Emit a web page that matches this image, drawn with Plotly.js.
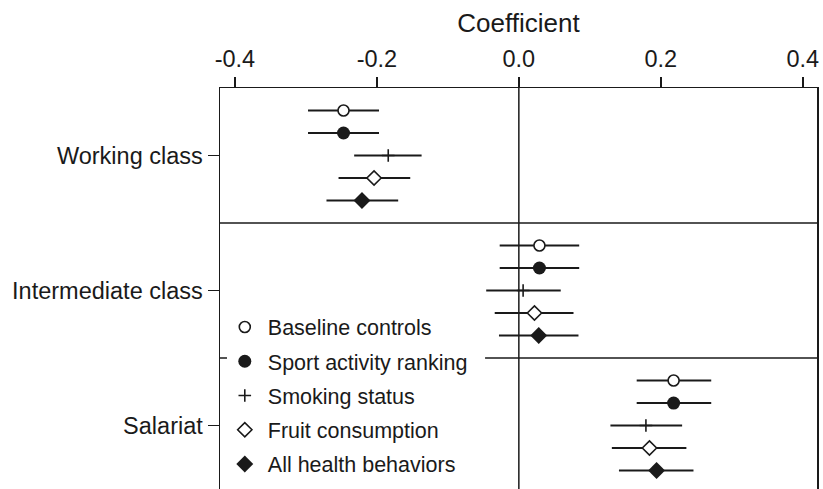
<!DOCTYPE html>
<html>
<head>
<meta charset="utf-8">
<script src="https://cdn.plot.ly/plotly-3.0.1.min.js"></script>
<style>
  html, body { margin: 0; padding: 0; background: #fff; }
  #chart { width: 823px; height: 489px; }
</style>
</head>
<body>
<div id="chart"></div>
<script>
// Social class groups (top to bottom) and model specifications
const classes = ["Working class", "Intermediate class", "Salariat"];
const models = ["Baseline controls", "Sport activity ranking", "Smoking status",
                "Fruit consumption", "All health behaviors"];

// Point estimates per model, one value per class
const baseline   = [-0.247, 0.029, 0.218];
const sport      = [-0.247, 0.029, 0.218];
const smoking    = [-0.184, 0.006, 0.179];
const fruit      = [-0.204, 0.022, 0.184];
const allHealth  = [-0.221, 0.028, 0.194];

// 95% confidence bounds
const baselineLo  = [-0.297, -0.027, 0.166];
const baselineHi  = [-0.197,  0.085, 0.271];
const sportLo     = [-0.297, -0.027, 0.166];
const sportHi     = [-0.197,  0.085, 0.271];
const smokingLo   = [-0.232, -0.046, 0.129];
const smokingHi   = [-0.137,  0.059, 0.230];
const fruitLo     = [-0.254, -0.034, 0.131];
const fruitHi     = [-0.153,  0.077, 0.236];
const allHealthLo = [-0.271, -0.028, 0.141];
const allHealthHi = [-0.170,  0.084, 0.246];

const xTicks = [-0.4, -0.2, 0.0, 0.2, 0.4];
const xTickText = ["-0.4", "-0.2", "0.0", "0.2", "0.4"];

const ink = "#1a1a1a";
const FONT = "Liberation Sans, Arial, sans-serif";

// vertical slot of each model inside a class band
const offsets = [-1/3, -1/6, 0, 1/6, 1/3];

const series = [
  { est: baseline,  lo: baselineLo,  hi: baselineHi,
    marker: { symbol: "circle", size: 11, color: "#fff", line: { color: ink, width: 1.6 } } },
  { est: sport,     lo: sportLo,     hi: sportHi,
    marker: { symbol: "circle", size: 13, color: ink, line: { color: ink, width: 0 } } },
  { est: smoking,   lo: smokingLo,   hi: smokingHi,
    marker: { symbol: "cross-thin-open", size: 9, color: ink, line: { color: ink, width: 1.6 } } },
  { est: fruit,     lo: fruitLo,     hi: fruitHi,
    marker: { symbol: "diamond", size: 11, color: "#fff", line: { color: ink, width: 1.6 } } },
  { est: allHealth, lo: allHealthLo, hi: allHealthHi,
    marker: { symbol: "diamond", size: 13, color: ink, line: { color: ink, width: 0 } } }
];

const traces = series.map((s, i) => ({
  type: "scatter",
  mode: "markers",
  name: models[i],
  legendgroup: "g" + i,
  x: s.est,
  y: classes.map((_, k) => k + offsets[i]),
  marker: s.marker,
  error_x: {
    type: "data",
    symmetric: false,
    array: s.est.map((v, k) => s.hi[k] - v),
    arrayminus: s.est.map((v, k) => v - s.lo[k]),
    color: ink,
    thickness: 2,
    width: 0
  },
  hoverinfo: "x+name"
}));

// band separators, a white panel behind the key, and the zero reference line
const shapes = [0.5, 1.5].map(v => ({
  type: "line", xref: "paper", x0: 0, x1: 1, yref: "y", y0: v, y1: v,
  line: { color: ink, width: 1.5 }, layer: "below"
}));
shapes.push({
  type: "rect", xref: "paper", x0: 0.0117, x1: 0.444, yref: "paper", y0: 0.02, y1: 0.45,
  fillcolor: "#fff", line: { width: 0 }, layer: "below"
});
shapes.push({
  type: "line", xref: "x", x0: 0, x1: 0, yref: "paper", y0: 0, y1: 1,
  line: { color: ink, width: 1.5 }, layer: "below"
});

const layout = {
  width: 823, height: 489,
  margin: { l: 220, r: 6, t: 88, b: 0, autoexpand: false },
  paper_bgcolor: "#fff",
  plot_bgcolor: "#fff",
  font: { family: FONT, color: ink, size: 21.5 },
  showlegend: true,
  legend: {
    x: 0.003, xanchor: "left",
    y: 0.455, yanchor: "top",
    bgcolor: "rgba(0,0,0,0)",
    borderwidth: 0,
    itemwidth: 36,
    traceorder: "grouped",
    tracegroupgap: 3.3,
    font: { family: FONT, size: 21.5, color: ink }
  },
  xaxis: {
    side: "top",
    range: [-0.421, 0.42],
    tickvals: xTicks,
    ticktext: xTickText,
    ticks: "outside", ticklen: 10, tickwidth: 1.5, tickcolor: ink,
    showline: true, linecolor: ink, linewidth: 1.5,
    showgrid: false, zeroline: false,
    tickfont: { family: FONT, size: 23.5, color: ink },
    title: { text: "Coefficient", font: { family: FONT, size: 26, color: ink }, standoff: 6 }
  },
  yaxis: {
    range: [2.47, -0.5],
    tickvals: [0, 1, 2],
    ticktext: classes,
    ticks: "outside", ticklen: 11, tickwidth: 1.5, tickcolor: ink,
    showline: true, linecolor: ink, linewidth: 1.5, mirror: true,
    showgrid: false, zeroline: false,
    tickfont: { family: FONT, size: 23.5, color: ink }
  },
  shapes: shapes
};

Plotly.newPlot("chart", traces, layout, { displayModeBar: false, staticPlot: true });
</script>
</body>
</html>
